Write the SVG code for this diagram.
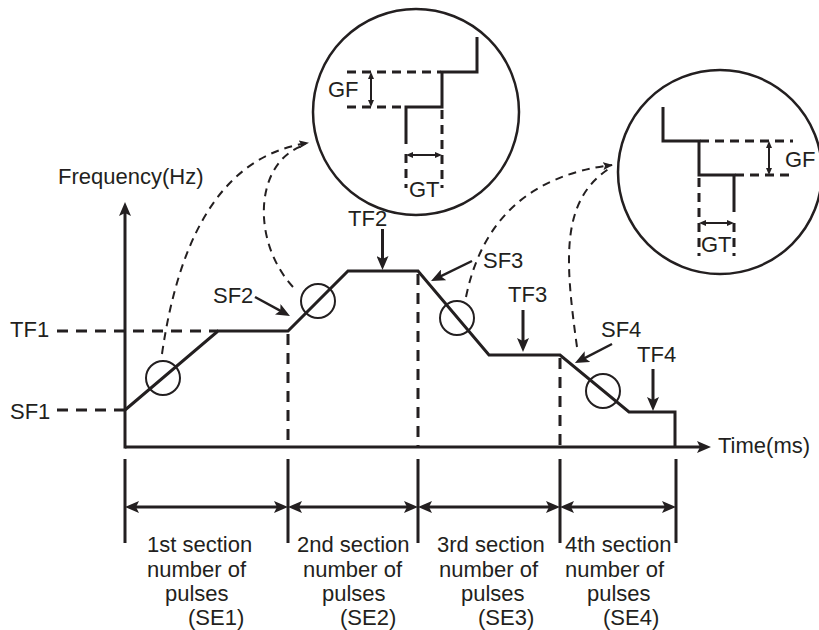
<svg xmlns="http://www.w3.org/2000/svg" width="819" height="630" viewBox="0 0 819 630">
<style>
text{font-family:"Liberation Sans",Arial,sans-serif;font-size:22px;fill:#231f20}
.thick{fill:none;stroke:#231f20;stroke-width:3}
.dash{fill:none;stroke:#231f20;stroke-width:3;stroke-dasharray:11 8}
.curve{fill:none;stroke:#231f20;stroke-width:2;stroke-dasharray:8 6}
.circ{fill:none;stroke:#231f20;stroke-width:2}
.arr{fill:none;stroke:#231f20;stroke-width:3;marker-end:url(#a)}
.arr2{fill:none;stroke:#231f20;stroke-width:3;marker-start:url(#a);marker-end:url(#a)}
.sarr{fill:none;stroke:#231f20;stroke-width:2.5;marker-end:url(#a)}
.gap{fill:none;stroke:#231f20;stroke-width:2;marker-start:url(#s);marker-end:url(#s)}
</style>
<defs>
<marker id="a" viewBox="0 0 14 12" markerUnits="userSpaceOnUse" markerWidth="14" markerHeight="12" refX="8" refY="6" orient="auto-start-reverse">
<path d="M0,0 L14,6 L0,12 L3,6 z" fill="#231f20"/>
</marker>
<marker id="s" viewBox="0 0 7 6" markerUnits="userSpaceOnUse" markerWidth="7" markerHeight="6" refX="4" refY="3" orient="auto-start-reverse">
<path d="M0,0 L7,3 L0,6 z" fill="#231f20"/>
</marker>
<marker id="c" viewBox="0 0 10 8" markerUnits="userSpaceOnUse" markerWidth="10" markerHeight="8" refX="9" refY="4" orient="auto">
<path d="M0,0 L10,4 L0,8 L2,4 z" fill="#231f20"/>
</marker>
</defs>

<g id="axes">
<line class="arr" x1="125" y1="447" x2="705" y2="447"/>
<line class="arr" x1="125" y1="448.5" x2="125" y2="208"/>
<text x="58" y="184">Frequency(Hz)</text>
<text x="718" y="453">Time(ms)</text>
</g>

<g id="profile">
<path class="thick" d="M125,410 L218,331 L288,331 L348,271 L418,271 L489,355 L560,355 L629,412 L675,412 L675,447"/>
</g>

<g id="guides">
<path class="dash" d="M57,331 H218 M57,410 H125"/>
<path class="dash" d="M288,334 V447 M418,274 V447 M560,358 V447"/>
<text x="10" y="337">TF1</text>
<text x="10" y="419">SF1</text>
</g>

<g id="small-circles">
<circle class="circ" cx="163" cy="378" r="17"/>
<circle class="circ" cx="318" cy="301" r="17"/>
<circle class="circ" cx="457" cy="318" r="17"/>
<circle class="circ" cx="603" cy="391" r="17"/>
</g>

<g id="labels">
<text x="213" y="303">SF2</text>
<line class="sarr" x1="255" y1="297" x2="284.7" y2="313.1"/>
<text x="348" y="226">TF2</text>
<line class="arr" x1="382.5" y1="229" x2="382.5" y2="264"/>
<text x="483" y="268">SF3</text>
<line class="sarr" x1="472" y1="261" x2="436.4" y2="278.4"/>
<text x="508" y="302">TF3</text>
<line class="arr" x1="523" y1="310" x2="523" y2="346"/>
<text x="601" y="337">SF4</text>
<line class="sarr" x1="612" y1="344" x2="580.3" y2="360.3"/>
<text x="637" y="362">TF4</text>
<line class="arr" x1="653" y1="369" x2="653" y2="405"/>
</g>

<g id="detail-1">
<circle class="circ" cx="416" cy="112" r="103" style="stroke-width:2.5"/>
<path class="thick" d="M477,37 V72 H442 V107 H406 V144"/>
<path class="dash" style="stroke-dasharray:9 6" d="M347,72 H441 M347,107 H405 M442,110 V188 M406,154 V188"/>
<line class="gap" x1="371" y1="75" x2="371" y2="104"/>
<line class="gap" x1="409" y1="155" x2="439" y2="155"/>
<text x="328" y="97">GF</text>
<text x="409" y="197">GT</text>
</g>

<g id="detail-2">
<circle class="circ" cx="720" cy="172" r="102" style="stroke-width:2.5"/>
<path class="thick" d="M663,107 V141 H699 V175 H734 V212"/>
<path class="dash" style="stroke-dasharray:9 6" d="M700,141 H793 M735,175 H793 M699,178 V256 M734,223 V256"/>
<line class="gap" x1="769" y1="144" x2="769" y2="172"/>
<line class="gap" x1="702" y1="223" x2="731" y2="223"/>
<text x="785" y="167">GF</text>
<text x="701" y="252">GT</text>
</g>

<g id="connectors">
<path class="curve" d="M162,354 Q190,160 308,143" marker-end="url(#c)"/>
<path class="curve" d="M293,287 C250,240 255,160 305,145"/>
<path class="curve" d="M466,297 Q490,180 612,165" marker-end="url(#c)"/>
<path class="curve" d="M577,347 C565,260 560,200 610,168"/>
</g>

<g id="sections">
<path class="thick" d="M125,459 V543 M288,459 V543 M418,459 V543 M560,459 V543 M676,459 V543"/>
<line class="arr2" x1="131" y1="507" x2="282" y2="507"/>
<line class="arr2" x1="294" y1="507" x2="412" y2="507"/>
<line class="arr2" x1="424" y1="507" x2="554" y2="507"/>
<line class="arr2" x1="566" y1="507" x2="670" y2="507"/>
<text x="147" y="552">1st section</text>
<text x="147" y="577">number of</text>
<text x="165" y="601">pulses</text>
<text x="188" y="625">(SE1)</text>
<text x="297" y="552">2nd section</text>
<text x="303" y="577">number of</text>
<text x="322" y="601">pulses</text>
<text x="340" y="625">(SE2)</text>
<text x="437" y="552">3rd section</text>
<text x="439" y="577">number of</text>
<text x="461" y="601">pulses</text>
<text x="478" y="625">(SE3)</text>
<text x="565" y="552">4th section</text>
<text x="565" y="577">number of</text>
<text x="587" y="601">pulses</text>
<text x="603" y="625">(SE4)</text>
</g>
</svg>
